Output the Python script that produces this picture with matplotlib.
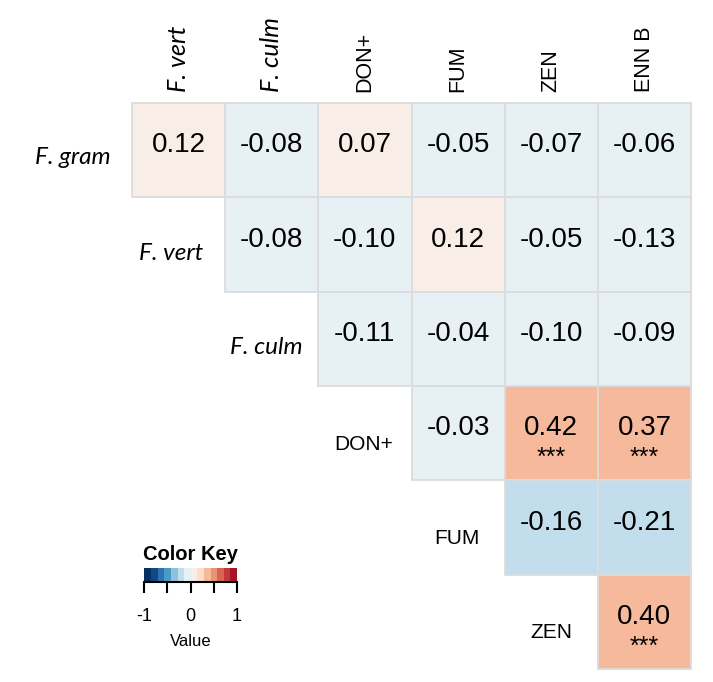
import numpy as np
import matplotlib
matplotlib.use("Agg")
import matplotlib.pyplot as plt
from matplotlib.colors import ListedColormap, BoundaryNorm
from matplotlib.patches import Rectangle

plt.rcParams['font.family'] = ['Liberation Sans', 'DejaVu Sans']

col_labels = ["F. vert", "F. culm", "DON+", "FUM", "ZEN", "ENN B"]
row_labels = ["F. gram", "F. vert", "F. culm", "DON+", "FUM", "ZEN"]
italic = [True, True, True, False, False, False]

row0 = [0.12, -0.08, 0.07, -0.05, -0.07, -0.06]
row1 = [-0.08, -0.10, 0.12, -0.05, -0.13]
row2 = [-0.11, -0.04, -0.10, -0.09]
row3 = [-0.03, 0.42, 0.37]
row4 = [-0.16, -0.21]
row5 = [0.40]
rows = [row0, row1, row2, row3, row4, row5]
stars = {(3, 4): "***", (3, 5): "***", (5, 5): "***"}

n = len(col_labels)

# binned red-blue palette like the colour key
bounds = np.linspace(-1, 1, 15)
base = plt.get_cmap("RdBu_r")
centers = (bounds[:-1] + bounds[1:]) / 2
shifted = np.where(centers > 0, centers * 0.9, centers * 1.15)
cmap = ListedColormap(base((shifted + 1) / 2))
norm = BoundaryNorm(bounds, cmap.N)

fig = plt.figure(figsize=(7.13, 6.82), dpi=100)
W, H = 713, 682
x0, x1, y0, y1 = 132, 691, 103, 669
ax = fig.add_axes([x0 / W, (H - y1) / H, (x1 - x0) / W, (y1 - y0) / H])
ax.set_xlim(0, n)
ax.set_ylim(n, 0)
ax.axis("off")

for i, r in enumerate(rows):
    for k, v in enumerate(r):
        j = i + k
        ax.add_patch(Rectangle((j, i), 1, 1, facecolor=cmap(norm(v)),
                               edgecolor="#dcdcdc", linewidth=1.3, clip_on=False))
        ax.text(j + 0.5, i + 0.45, f"{v:.2f}", ha="center", va="center", fontsize=20)
        if (i, j) in stars:
            ax.text(j + 0.5, i + 0.76, stars[(i, j)], ha="center", va="center", fontsize=18)

# column labels
for j, lab in enumerate(col_labels):
    if j < 2:
        kw = dict(family=["Lato", "DejaVu Sans"], style="italic", fontsize=18)
    else:
        kw = dict(fontsize=15.5)
    ax.text(j + 0.5, -0.12, lab, rotation=90, ha="center", va="bottom", **kw)

# row labels
row_px = [(111, 158, "right"), (171, 253, "center"), (266, 347, "center"),
          (364, 445, "center"), (457, 539, "center"), (551, 632, "center")]
for i, lab in enumerate(row_labels):
    px, py, ha = row_px[i]
    if italic[i]:
        kw = dict(family=["Lato", "DejaVu Sans"], style="italic", fontsize=17.5)
    else:
        kw = dict(fontsize=15)
    ax.text((px - x0) / (x1 - x0) * n, (py - y0) / (y1 - y0) * n, lab,
            ha=ha, va="center", **kw)

# colour key
kax = fig.add_axes([144 / W, (H - 582) / H, 93 / W, 14 / H])
grad = np.linspace(-1, 1, 200)
kax.pcolormesh(grad, [0, 1], np.vstack([grad[:-1]]), cmap=cmap, norm=norm)
kax.set_xlim(-1, 1)
kax.set_yticks([])
kax.set_xticks([-1, -0.5, 0, 0.5, 1])
kax.set_xticklabels(["-1", "", "0", "", "1"], fontsize=13)
kax.tick_params(axis="x", length=8, width=1.5, pad=11)
for s in ["top", "left", "right"]:
    kax.spines[s].set_visible(False)
kax.spines["bottom"].set_linewidth(1.5)
kax.set_xlabel("Value", fontsize=12, labelpad=6)
kax.set_title("Color Key", fontsize=14.5, fontweight="bold", pad=6)

fig.savefig("out.png", dpi=100)
